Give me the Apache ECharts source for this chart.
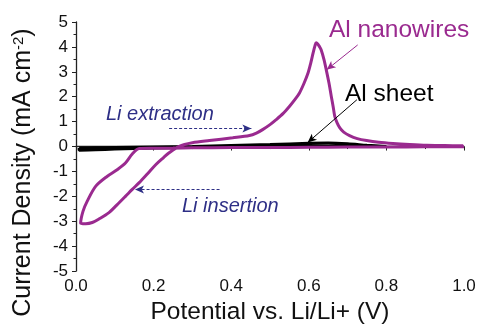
<!DOCTYPE html>
<html>
<head>
<meta charset="utf-8">
<script src="https://cdn.jsdelivr.net/npm/echarts@6/dist/echarts.min.js"></script>
<style>html,body{margin:0;padding:0;background:#fff}#c{width:479px;height:330px}</style>
</head>
<body>
<div id="c"></div>
<script>
// ---- data ----
var xTicks = [0.0, 0.2, 0.4, 0.6, 0.8, 1.0];
var yTicks = [-5, -4, -3, -2, -1, 0, 1, 2, 3, 4, 5];

// Al nanowires CV loop (potential V, current mA cm-2), in sweep order
var nanoV = [1.0, 0.9, 0.8, 0.7, 0.6, 0.5, 0.4, 0.3, 0.25, 0.2, 0.163, 0.145, 0.128, 0.107, 0.08, 0.051, 0.029, 0.018, 0.012, 0.025, 0.042, 0.06, 0.085, 0.105, 0.128, 0.145, 0.163, 0.185, 0.206, 0.225, 0.240, 0.266, 0.300, 0.344, 0.404, 0.447, 0.465, 0.481, 0.500, 0.516, 0.534, 0.550, 0.565, 0.576, 0.588, 0.598, 0.605, 0.611, 0.616, 0.619, 0.623, 0.628, 0.632, 0.639, 0.645, 0.652, 0.658, 0.663, 0.667, 0.673, 0.680, 0.690, 0.705, 0.725, 0.749, 0.780, 0.817, 0.860, 0.904, 0.950, 0.998];
var nanoI = [-0.01, -0.01, -0.02, -0.02, -0.03, -0.04, -0.04, -0.05, -0.06, -0.07, -0.08, -0.3, -0.65, -0.92, -1.2, -1.59, -2.19, -2.6, -3.08, -3.1, -3.05, -2.9, -2.65, -2.35, -1.99, -1.72, -1.45, -1.08, -0.72, -0.45, -0.25, 0.01, 0.15, 0.24, 0.35, 0.44, 0.54, 0.68, 0.88, 1.08, 1.33, 1.61, 1.9, 2.15, 2.55, 2.95, 3.35, 3.75, 4.05, 4.17, 4.12, 4.0, 3.88, 3.5, 3.08, 2.55, 2.01, 1.58, 1.21, 0.95, 0.75, 0.58, 0.44, 0.32, 0.24, 0.17, 0.12, 0.08, 0.05, 0.04, 0.03];

// Al sheet CV loop
var sheetV = [0.008, 0.05, 0.1, 0.2, 0.3, 0.4, 0.5, 0.6, 0.65, 0.7, 0.75, 0.8, 0.7, 0.6, 0.5, 0.4, 0.3, 0.2, 0.1, 0.05, 0.008, 0.008];
var sheetI = [-0.06, -0.05, -0.04, -0.02, 0.0, 0.04, 0.08, 0.13, 0.14, 0.11, 0.05, 0.0, 0.01, 0.02, 0.01, -0.01, -0.03, -0.06, -0.1, -0.13, -0.15, -0.06];

// annotation arrows [x1, y1, x2, y2] in data units
var arrowExtraction = [0.240, 0.72, 0.452, 0.72];
var arrowInsertion = [0.370, -1.72, 0.152, -1.72];
var pointerNano = [0.726, 4.08, 0.646, 3.08];
var pointerSheet = [0.724, 1.88, 0.597, 0.16];

var purple = '#9a2a8f';
var navy = '#2e2f86';
var font = 'Liberation Sans, Arial, sans-serif';

function zip(a, b) { return a.map(function (v, i) { return [v, b[i]]; }); }
function seg(a, style, size) {
  var s = [{ coord: [a[0], a[1]], lineStyle: style }, { coord: [a[2], a[3]] }];
  if (size) s[0].symbolSize = size;
  return s;
}

var chart = echarts.init(document.getElementById('c'));
chart.setOption({
  animation: false,
  textStyle: { fontFamily: font },
  grid: { left: 76, right: 15, top: 22, bottom: 58 },
  xAxis: {
    type: 'value', min: xTicks[0], max: xTicks[xTicks.length - 1], interval: 0.2,
    name: 'Potential vs. Li/Li+ (V)', nameLocation: 'middle', nameGap: 26,
    nameTextStyle: { fontSize: 24.5, color: '#111', fontFamily: font },
    axisLine: { lineStyle: { color: '#222', width: 1.3 } },
    axisTick: { show: true, inside: false, length: 4, lineStyle: { color: '#222' } },
    minorTick: { show: true, splitNumber: 2, length: 2.5, lineStyle: { color: '#222' } },
    splitLine: { show: false },
    axisLabel: { fontSize: 17, color: '#111', margin: 7, fontFamily: font, formatter: function (v) { return v.toFixed(1); } }
  },
  yAxis: {
    type: 'value', min: yTicks[0], max: yTicks[yTicks.length - 1], interval: 1,
    name: '{a|Current Density (mA cm}{s|-2}{a|)}', nameLocation: 'middle', nameGap: 40,
    nameTextStyle: {
      padding: [0, 52, 0, 0],
      rich: {
        a: { fontSize: 25, color: '#111', fontFamily: font },
        s: { fontSize: 15, color: '#111', fontFamily: font, verticalAlign: 'top', padding: [0, 0, 10, 0] }
      }
    },
    axisLine: { show: true, lineStyle: { color: '#222', width: 1.3 } },
    axisTick: { show: true, inside: false, length: 4, lineStyle: { color: '#222' } },
    minorTick: { show: true, splitNumber: 2, length: 2.5, lineStyle: { color: '#222' } },
    splitLine: { show: false },
    axisLabel: { fontSize: 17, color: '#111', margin: 8, fontFamily: font }
  },
  series: [
    {
      name: 'Al sheet', type: 'line', data: zip(sheetV, sheetI), showSymbol: false, smooth: 0.3,
      lineStyle: { color: '#000', width: 3 }, z: 2,
      markLine: {
        silent: true, symbol: ['none', 'arrow'], symbolSize: [6, 9], label: { show: false },
        data: [seg(pointerSheet, { color: '#000', width: 1, type: 'solid' })]
      }
    },
    {
      name: 'Al nanowires', type: 'line', data: zip(nanoV, nanoI), showSymbol: false, smooth: 0.3,
      lineStyle: { color: purple, width: 3 }, z: 3,
      markLine: {
        silent: true, symbol: ['none', 'arrow'], symbolSize: [6, 9], label: { show: false },
        data: [
          seg(pointerNano, { color: purple, width: 1, type: 'solid' }),
          seg(arrowExtraction, { color: navy, width: 1, type: [3, 2] }, [6, 7]),
          seg(arrowInsertion, { color: navy, width: 1, type: [3, 2] }, [6, 7])
        ]
      }
    }
  ],
  graphic: [
    { type: 'text', left: 329, top: 18, style: { text: 'Al nanowires', font: '24.5px ' + font, fill: purple } },
    { type: 'text', left: 345, top: 82, style: { text: 'Al sheet', font: '24.5px ' + font, fill: '#000' } },
    { type: 'text', left: 106, top: 104, style: { text: 'Li extraction', font: 'italic 20px ' + font, fill: navy } },
    { type: 'text', left: 182, top: 196, style: { text: 'Li insertion', font: 'italic 20px ' + font, fill: navy } }
  ]
});
</script>
</body>
</html>
